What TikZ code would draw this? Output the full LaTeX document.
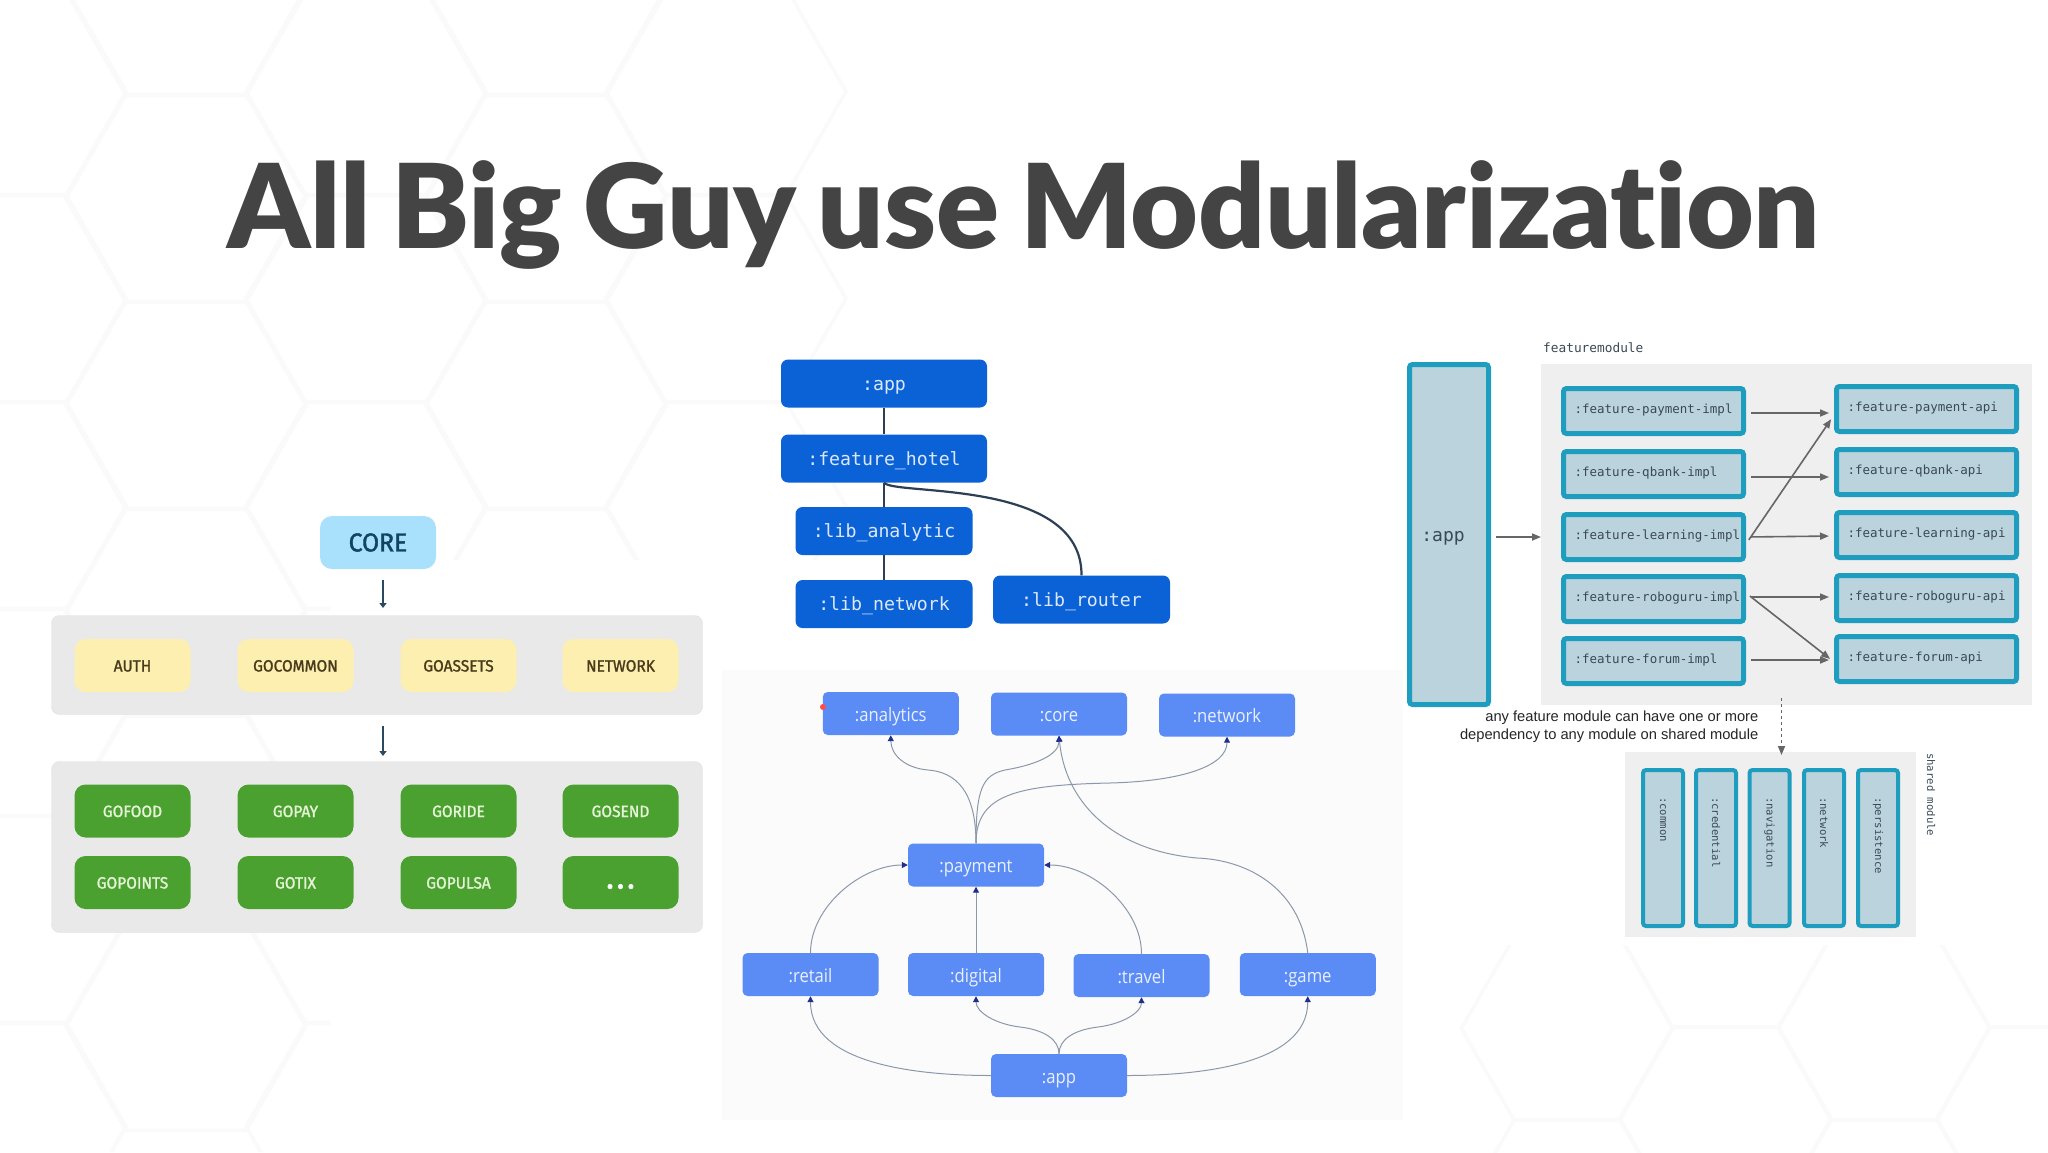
\documentclass[tikz,border=0pt]{standalone}
\usepackage{fontspec}
\usetikzlibrary{arrows.meta}
\setmainfont{Liberation Sans}
\newfontfamily\titlefont[Ligatures=CommonOff,WordSpace=0.8,LetterSpace=-0.3]{Lato Black}
\newfontfamily\gofont[FakeStretch=0.95,FakeBold=1.4]{Fira Sans}
\newfontfamily\monofont[HyphenChar=None]{DejaVu Sans Mono}
\newfontfamily\depfont[FakeStretch=0.9]{Open Sans}
\definecolor{hexline}{HTML}{FAFAFA}
\definecolor{backdrop}{HTML}{FBFBFC}
\definecolor{panelgray}{HTML}{E9E9EA}
\definecolor{paneledge}{HTML}{DFDFE0}
\definecolor{corefill}{HTML}{A9E0FB}
\definecolor{coretext}{HTML}{12445F}
\definecolor{yellowfill}{HTML}{FDEFB0}
\definecolor{yellowtext}{HTML}{4A3A1C}
\definecolor{greenfill}{HTML}{4BA12F}
\definecolor{greentext}{HTML}{E6F5D8}
\definecolor{darkarrow}{HTML}{2A4A63}
\definecolor{libfill}{HTML}{0B62D6}
\definecolor{libtext}{HTML}{DCE8F8}
\definecolor{libline}{HTML}{2D3F55}
\definecolor{depfill}{HTML}{5B8CF5}
\definecolor{deptext}{HTML}{EAF0FE}
\definecolor{depline}{HTML}{8C98AA}
\definecolor{deptip}{HTML}{1F2F8F}
\definecolor{featfill}{HTML}{BAD3DD}
\definecolor{featedge}{HTML}{1F9DBF}
\definecolor{feattext}{HTML}{3A4A55}
\definecolor{featline}{HTML}{666666}
\definecolor{sharedgray}{HTML}{EFEFEF}
\definecolor{titlegray}{HTML}{444444}
\tikzset{
  panelbox/.style={draw=paneledge,fill=panelgray,rounded corners=8pt,minimum width=651pt,inner sep=0pt},
  gobox/.style={rounded corners=11pt,minimum width=116pt,minimum height=53pt,inner sep=0pt,
    font=\gofont\fontsize{16.3}{18}\selectfont,text height=12pt,text depth=0pt},
  yellowbox/.style={gobox,fill=yellowfill,text=yellowtext},
  greenbox/.style={gobox,fill=greenfill,text=greentext},
  libbox/.style={fill=libfill,text=libtext,rounded corners=7pt,minimum height=48pt,inner sep=0pt,
    font=\monofont\fontsize{18.2}{20}\selectfont,text height=14pt,text depth=1pt},
  depbox/.style={fill=depfill,text=deptext,rounded corners=5pt,minimum width=136pt,minimum height=43pt,inner sep=0pt,
    font=\depfont\fontsize{18.5}{22}\selectfont,text height=15pt,text depth=0pt},
  featbox/.style={draw=featedge,line width=5pt,fill=featfill,text=feattext,rounded corners=3pt,
    minimum height=45pt,text width=158pt,inner xsep=11pt,inner ysep=0pt,align=left,
    font=\monofont\fontsize{12.5}{14}\selectfont,text height=8pt,text depth=4pt},
  sharedbox/.style={draw=featedge,line width=4pt,fill=featfill,rounded corners=3pt,minimum width=40pt,minimum height=156pt,inner sep=0pt},
  sharedtext/.style={rotate=-90,anchor=west,text=feattext,inner sep=0pt,font=\monofont\fontsize{10.6}{12}\selectfont},
}
\begin{document}
\begin{tikzpicture}[x=1pt,y=-1pt]
  \useasboundingbox (0,0) rectangle (2048,1152);
  \fill[white] (0,0) rectangle (2048,1152);
  % hexagons behind everything
  \begin{scope}
  \clip (0,0) rectangle (850,560) (0,560) rectangle (330,1152);
  \foreach \cx in {6,366,726} \foreach \cy in {91.5,298.5,505.5,712.5,919.5,1126.5}
    \draw[hexline,line width=3.5pt] (\cx,\cy) +(0:120) -- +(60:120) -- +(120:120) -- +(180:120) -- +(240:120) -- +(300:120) -- cycle;
  \foreach \cx in {186,546} \foreach \cy in {-8.5,198.5,405.5,612.5,819.5,1026.5}
    \draw[hexline,line width=3.5pt] (\cx,\cy) +(0:120) -- +(60:120) -- +(120:120) -- +(180:120) -- +(240:120) -- +(300:120) -- cycle;
  \end{scope}
  \begin{scope}
  \clip (1408,945) rectangle (2048,1152);
  \foreach \cx in {1567,1884} \foreach \cy in {1028.5,1211.5}
    \draw[hexline,line width=3.5pt] (\cx,\cy) +(0:105.7) -- +(60:105.7) -- +(120:105.7) -- +(180:105.7) -- +(240:105.7) -- +(300:105.7) -- cycle;
  \foreach \cx in {1725.5,2042.5} \foreach \cy in {935.5,1118.5}
    \draw[hexline,line width=3.5pt] (\cx,\cy) +(0:105.7) -- +(60:105.7) -- +(120:105.7) -- +(180:105.7) -- +(240:105.7) -- +(300:105.7) -- cycle;
  \end{scope}
  \fill[backdrop] (722,670) rectangle (1403,1120);
  \node[text=titlegray,font=\titlefont\fontsize{117}{130}\selectfont,inner sep=0pt,anchor=base] (title) at (1023.5,248) {All Big Guy use Modularization};

  % left: core and go modules
  \node[panelbox,minimum height=99pt] (infrapanel) at (377,665) {};
  \node[panelbox,minimum height=171pt] (apppanel) at (377,847) {};
  \node[fill=corefill,text=coretext,rounded corners=12pt,minimum width=116pt,minimum height=53pt,inner sep=0pt,
    font=\gofont\fontsize{26}{28}\selectfont] (core) at (378,542.5) {CORE};
  \begin{scope}[every node/.style={yellowbox}]
  \node (auth) at (132.5,665.5) {AUTH};
  \node (gocommon) at (295.5,665.5) {GOCOMMON};
  \node (goassets) at (458.5,665.5) {GOASSETS};
  \node (network) at (620.5,665.5) {NETWORK};
  \end{scope}
  \begin{scope}[every node/.style={greenbox}]
  \node (gofood) at (132.5,811) {GOFOOD};
  \node (gopay) at (295.5,811) {GOPAY};
  \node (goride) at (458.5,811) {GORIDE};
  \node (gosend) at (620.5,811) {GOSEND};
  \node (gopoints) at (132.5,882.5) {GOPOINTS};
  \node (gotix) at (295.5,882.5) {GOTIX};
  \node (gopulsa) at (458.5,882.5) {GOPULSA};
  \node[font=\gofont\fontsize{34}{34}\selectfont\addfontfeature{LetterSpace=8},text=white] (gomore) at (620.5,882.5) {...};
  \end{scope}
  \coordinate (coredown) at (383,580);
  \coordinate (infratop) at (383,608);
  \coordinate (infradown) at (383,726);
  \coordinate (apptop) at (383,756);
  \begin{scope}[every edge/.style={draw=darkarrow,line width=1.8pt,-{Triangle[length=5pt,width=7pt]}}]
  \path (coredown) edge (infratop);
  \path (infradown) edge (apptop);
  \end{scope}

  % middle top: hotel feature
  \begin{scope}[every node/.style={libbox}]
  \node[minimum width=206pt] (libapp) at (884,383.5) {:app};
  \node[minimum width=206pt] (hotel) at (884,458.5) {:feature\_hotel};
  \node[minimum width=177pt] (analytic) at (884,531) {:lib\_analytic};
  \node[minimum width=177pt] (libnetwork) at (884,604) {:lib\_network};
  \node[minimum width=177pt] (router) at (1081.5,599.5) {:lib\_router};
  \end{scope}
  \begin{scope}[every edge/.style={draw=libline,line width=2.2pt}]
  \path (libapp) edge (hotel);
  \path (hotel) edge (analytic);
  \path (analytic) edge (libnetwork);
  \end{scope}
  \draw[libline,line width=2.2pt] (hotel.south) .. controls (895,496) and (1082,478) .. (router.north);

  % middle bottom: dependency graph
  \begin{scope}[every node/.style={depbox}]
  \node (analytics) at (890.75,713.5) {:analytics};
  \node (depcore) at (1059,714) {:core};
  \node (depnetwork) at (1227,715) {:network};
  \node (payment) at (976,865) {:payment};
  \node (retail) at (810.5,974.5) {:retail};
  \node (digital) at (976,974.5) {:digital};
  \node (travel) at (1141.5,975.5) {:travel};
  \node (game) at (1307.75,974.5) {:game};
  \node (depapp) at (1059,1075.5) {:app};
  \end{scope}
  \begin{scope}[every edge/.style={draw=depline,line width=1pt,-{Triangle[length=6pt,width=6pt,color=deptip]}}]
  \path (retail.north) edge[out=90,in=180,looseness=0.9] (payment.west);
  \path (digital.north) edge (payment.south);
  \path (travel.north) edge[out=90,in=0,looseness=0.9] (payment.east);
  \path (depapp.west) edge[out=180,in=-90,looseness=0.9] (retail.south);
  \path (depapp.east) edge[out=0,in=-90,looseness=0.9] (game.south);
  \end{scope}
  \begin{scope}[every path/.style={draw=depline,line width=1pt,-{Triangle[length=6pt,width=6pt,color=deptip]}}]
  \path (payment.north) .. controls (976,790) and (955,772) .. (928,770) .. controls (905,768) and (891,755) .. (analytics.south);
  \path (payment.north) .. controls (976,790) and (982,775) .. (1005,770) .. controls (1035,765) and (1059,755) .. (depcore.south);
  \path (payment.north) .. controls (976,795) and (1015,785) .. (1110,783) .. controls (1185,781) and (1227,765) .. (depnetwork.south);
  \path (game.north) .. controls (1300,890) and (1250,860) .. (1197,858) .. controls (1110,850) and (1065,800) .. (depcore.south);
  \path (depapp.north) .. controls (1059,1040) and (1045,1030) .. (1020,1027) .. controls (995,1024) and (976,1012) .. (digital.south);
  \path (depapp.north) .. controls (1059,1040) and (1073,1030) .. (1098,1027) .. controls (1123,1024) and (1141.5,1012) .. (travel.south);
  \end{scope}
  \fill[red!70!white] (823,707) circle (3pt);

  % right: feature modules
  \fill[sharedgray] (1541,364) rectangle (2032,705);
  \fill[sharedgray] (1625,752) rectangle (1916,937);
  \node[inner sep=0pt,anchor=west,text=feattext,font=\monofont\fontsize{12.8}{14}\selectfont] (featuremodule) at (1543,348) {featuremodule};
  \node[draw=featedge,line width=5pt,fill=featfill,text=feattext,rounded corners=3pt,minimum width=79pt,minimum height=340pt,inner sep=0pt,
    font=\monofont\fontsize{18}{20}\selectfont,text height=15pt,text depth=2pt] (rightapp) at (1449,534.5) {:app\rule{12pt}{0pt}};
  \begin{scope}[every node/.style={featbox}]
  \node (payimpl) at (1653.5,411) {:feature-payment-impl};
  \node (qbankimpl) at (1653.5,474) {:feature-qbank-impl};
  \node (learnimpl) at (1653.5,537) {:feature-learning-impl};
  \node (roboimpl) at (1653.5,599) {:feature-roboguru-impl};
  \node (forumimpl) at (1653.5,661) {:feature-forum-impl};
  \node (payapi) at (1926.5,409) {:feature-payment-api};
  \node (qbankapi) at (1926.5,472) {:feature-qbank-api};
  \node (learnapi) at (1926.5,535) {:feature-learning-api};
  \node (roboapi) at (1926.5,598) {:feature-roboguru-api};
  \node (forumapi) at (1926.5,659) {:feature-forum-api};
  \end{scope}
  \coordinate (featureleft) at (1541,537);
  \coordinate (dashtop) at (1781.5,698);
  \coordinate (dashend) at (1781.5,755);
  \begin{scope}[every edge/.style={draw=featline,line width=1.6pt,shorten <=5pt,shorten >=5pt,-{Triangle[length=9pt,width=7pt]}}]
  \path ([yshift=-2pt]payimpl.east) edge ([yshift=-4pt]payapi.west);
  \path ([yshift=-3pt]qbankimpl.east) edge ([yshift=-5pt]qbankapi.west);
  \path (learnimpl.east) edge ([yshift=-1pt]learnapi.west);
  \path ([yshift=-7pt]learnimpl.east) edge ([yshift=-6pt]payapi.west);
  \path ([yshift=2pt]roboimpl.east) edge ([yshift=1pt]roboapi.west);
  \path ([yshift=6pt]roboimpl.east) edge ([yshift=-3pt]forumapi.west);
  \path ([yshift=1pt]forumimpl.east) edge ([yshift=-1pt]forumapi.west);
  \path ([yshift=-2.5pt]rightapp.east) edge[shorten >=0pt] (featureleft);
  \path (dashtop) edge[dashed,shorten <=0pt,shorten >=0pt] (dashend);
  \end{scope}
  \node[inner sep=0pt,anchor=east,align=right,text=black!85,font=\fontsize{14.7}{18.5}\selectfont] (anyfeature) at (1758.5,726.5) {any feature module can have one or more\\dependency to any module on shared module};
  \begin{scope}[every node/.style={sharedbox}]
  \node (common) at (1663,848) {};
  \node (credential) at (1716,848) {};
  \node (navigation) at (1769.5,848) {};
  \node (modnetwork) at (1824,848) {};
  \node (persistence) at (1878,848) {};
  \end{scope}
  \begin{scope}[every node/.style={sharedtext}]
  \node (commonlabel) at (1663,797) {:common};
  \node (credentiallabel) at (1716,797) {:credential};
  \node (navigationlabel) at (1769.5,797) {:navigation};
  \node (networklabel) at (1824,797) {:network};
  \node (persistencelabel) at (1878,797) {:persistence};
  \node (sharedmodule) at (1931,753) {shared module};
  \end{scope}
\end{tikzpicture}
\end{document}
